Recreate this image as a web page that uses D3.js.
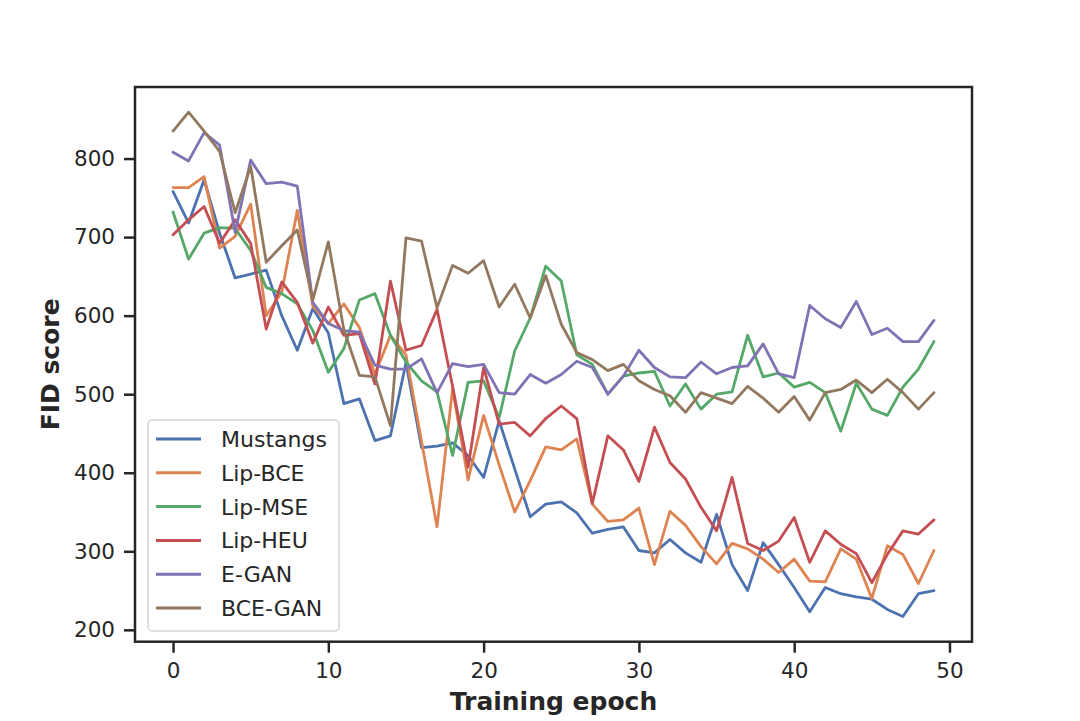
<!DOCTYPE html>
<html lang="en">
<head>
    <meta charset="UTF-8" />
    <title>FID score vs training epoch</title>
    <script src="https://d3js.org/d3.v7.min.js"></script>
    <style>
        body, html {
            margin: 0;
            padding: 0;
            background: #fff;
            font-family: "DejaVu Sans", sans-serif;
        }
        .axis text {
            font-size: 21.5px;
            fill: #262626;
            font-family: "DejaVu Sans", sans-serif;
        }
        .axis path, .axis line {
            stroke: #262626;
            stroke-width: 2.5px;
        }
        .series {
            fill: none;
            stroke-width: 2.8px;
            stroke-linejoin: round;
            stroke-linecap: round;
        }
        .label {
            font-size: 25px;
            font-weight: bold;
            fill: #262626;
        }
        .legend text {
            font-size: 22px;
            fill: #262626;
        }
    </style>
</head>
<body>
    <div id="chart"></div>

    <script>
        const epochs = d3.range(0, 50);

        const mustangs = [758, 718, 773, 705, 648, 653, 658, 600, 556, 609,
                          578, 488, 494, 441, 447, 540, 432, 434, 438, 422,
                          394, 466, 405, 344, 360, 363, 349, 323, 328, 331,
                          301, 298, 315, 298, 286, 347, 283, 250, 311, 283,
                          254, 223, 254, 246, 242, 239, 226, 217, 246, 250];

        const lipBCE = [763, 763, 777, 686, 701, 742, 600, 630, 734, 612,
                        590, 615, 585, 525, 575, 550, 440, 331, 507, 391,
                        473, 410, 350, 390, 433, 429, 443, 360, 338, 340,
                        355, 283, 351, 333, 306, 284, 310, 303, 290, 273,
                        290, 262, 261, 303, 290, 240, 307, 296, 259, 301];

        const lipMSE = [732, 672, 705, 712, 711, 683, 636, 628, 615, 581,
                        528, 558, 620, 628, 575, 541, 517, 503, 422, 515,
                        517, 470, 555, 597, 663, 644, 550, 538, 500, 523,
                        527, 529, 485, 513, 481, 500, 503, 575, 522, 527,
                        509, 515, 502, 453, 514, 481, 473, 509, 532, 567];

        const lipHEU = [703, 722, 739, 692, 722, 692, 583, 643, 617, 565,
                        611, 575, 577, 513, 644, 556, 562, 608, 510, 407,
                        534, 462, 464, 447, 469, 485, 469, 361, 447, 429,
                        389, 458, 413, 392, 356, 326, 394, 310, 301, 313,
                        343, 286, 326, 309, 297, 260, 296, 326, 322, 340];

        const eGAN = [808, 797, 833, 817, 706, 798, 768, 770, 765, 617,
                      590, 581, 579, 537, 532, 532, 545, 502, 539, 535,
                      538, 502, 500, 525, 514, 525, 542, 534, 500, 523,
                      556, 534, 522, 521, 541, 526, 534, 536, 564, 526,
                      521, 613, 596, 585, 618, 576, 584, 567, 567, 594];

        const bceGAN = [835, 859, 835, 809, 731, 790, 668, 689, 709, 620,
                        694, 582, 524, 522, 460, 699, 695, 610, 664, 654,
                        670, 611, 640, 597, 651, 589, 553, 544, 530, 538,
                        517, 506, 498, 477, 502, 495, 488, 510, 495, 477,
                        497, 467, 502, 506, 518, 502, 519, 502, 481, 502];

        const seriesNames = ["Mustangs", "Lip-BCE", "Lip-MSE", "Lip-HEU", "E-GAN", "BCE-GAN"];
        const seriesValues = [mustangs, lipBCE, lipMSE, lipHEU, eGAN, bceGAN];
        const colors = ["#4c72b0", "#dd8452", "#55a868", "#c44e52", "#8172b3", "#937860"];

        const xTicks = [0, 10, 20, 30, 40, 50];
        const yTicks = [200, 300, 400, 500, 600, 700, 800];

        const width = 1080, height = 721;
        const margin = {top: 87, right: 108, bottom: 79.3, left: 135};

        const svg = d3.select("#chart").append("svg")
            .attr("width", width)
            .attr("height", height);

        // matplotlib style 5% padding around the data
        const xPad = 49 * 0.05;
        const x = d3.scaleLinear()
            .domain([-xPad, 49 + xPad])
            .range([margin.left, width - margin.right]);

        const allVals = seriesValues.flat();
        const yMin = d3.min(allVals), yMax = d3.max(allVals);
        const yPad = (yMax - yMin) * 0.05;
        const y = d3.scaleLinear()
            .domain([yMin - yPad, yMax + yPad])
            .range([height - margin.bottom, margin.top]);

        const line = d3.line()
            .x((d, i) => x(epochs[i]))
            .y(d => y(d));

        const g = svg.append("g");

        seriesValues.forEach((vals, k) => {
            g.append("path")
                .datum(vals)
                .attr("class", "series")
                .attr("stroke", colors[k])
                .attr("d", line);
        });

        // frame
        svg.append("rect")
            .attr("x", margin.left)
            .attr("y", margin.top)
            .attr("width", width - margin.left - margin.right)
            .attr("height", height - margin.top - margin.bottom)
            .attr("fill", "none")
            .attr("stroke", "#262626")
            .attr("stroke-width", 2.5);

        const xAxis = svg.append("g")
            .attr("class", "axis")
            .attr("transform", `translate(0,${height - margin.bottom})`)
            .call(d3.axisBottom(x).tickValues(xTicks).tickSize(11).tickPadding(10).tickSizeOuter(0));
        xAxis.select(".domain").remove();

        const yAxis = svg.append("g")
            .attr("class", "axis")
            .attr("transform", `translate(${margin.left},0)`)
            .call(d3.axisLeft(y).tickValues(yTicks).tickSize(11).tickPadding(9).tickSizeOuter(0));
        yAxis.select(".domain").remove();

        svg.append("text")
            .attr("class", "label")
            .attr("x", (margin.left + width - margin.right) / 2)
            .attr("y", 710)
            .attr("text-anchor", "middle")
            .text("Training epoch");

        svg.append("text")
            .attr("class", "label")
            .attr("transform", `translate(59,${(margin.top + height - margin.bottom) / 2}) rotate(-90)`)
            .attr("text-anchor", "middle")
            .text("FID score");

        // legend
        const legend = svg.append("g").attr("class", "legend");
        legend.append("rect")
            .attr("x", 148)
            .attr("y", 420)
            .attr("width", 191)
            .attr("height", 211)
            .attr("rx", 4)
            .attr("fill", "#fff")
            .attr("fill-opacity", 0.8)
            .attr("stroke", "#d5d5d5")
            .attr("stroke-width", 1.5);

        seriesNames.forEach((name, k) => {
            const ly = 439 + k * 33.8;
            legend.append("line")
                .attr("x1", 156).attr("x2", 201)
                .attr("y1", ly).attr("y2", ly)
                .attr("stroke", colors[k])
                .attr("stroke-width", 3);
            legend.append("text")
                .attr("x", 221)
                .attr("y", ly)
                .attr("dy", "0.36em")
                .text(name);
        });
    </script>
</body>
</html>
